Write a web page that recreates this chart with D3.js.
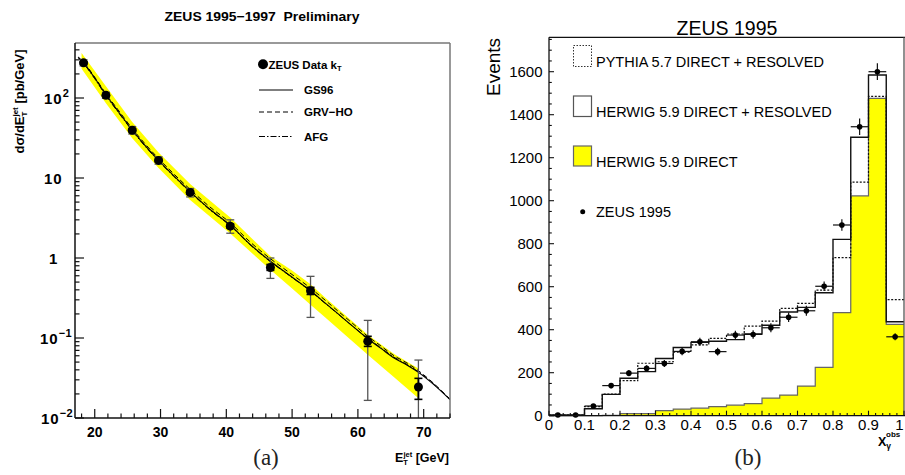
<!DOCTYPE html>
<html>
<head>
<meta charset="utf-8">
<script src="https://cdn.jsdelivr.net/npm/d3@7"></script>
<style>
  html, body { margin: 0; padding: 0; background: #fff; }
  svg { display: block; }
  text { font-family: "Liberation Sans", Arial, Helvetica, sans-serif; }
  .serif { font-family: "Liberation Serif", "DejaVu Serif", serif; }
</style>
</head>
<body>
<svg id="fig" width="905" height="475"></svg>
<script>
// ---------- Panel (a): dsigma/dE_T^jet ----------
const etData   = [18.3, 21.7, 25.7, 29.7, 34.5, 40.6, 46.7, 52.8, 61.5, 69.2];
const xsData   = [275, 108, 39.5, 16.6, 6.6, 2.5, 0.76, 0.39, 0.091, 0.0244];
const statHigh = [283, 111, 41.2, 17.2, 6.95, 2.66, 0.83, 0.43, 0.105, 0.0313];
const statLow  = [267, 105, 37.8, 16.0, 6.25, 2.36, 0.70, 0.35, 0.0785, 0.0171];
const totHigh  = [300, 118, 44.0, 18.4, 7.40, 3.00, 1.00, 0.59, 0.166, 0.053];
const totLow   = [252, 99, 35.5, 14.9, 5.80, 2.04, 0.556, 0.181, 0.0166, 0.006];

const theoryEt = [17.5, 18.3, 20, 21.7, 23.5, 25.7, 27.5, 29.7, 32, 34.5, 37.5, 40.6, 43.5, 46.7,
                  49.5, 52.8, 55, 57, 59, 61.5, 63.5, 65.5, 67.5, 69.2, 71.5, 74];
const gs96  = [323, 275, 178, 110, 69.2, 39.8, 26.3, 16.6, 10.7, 6.76, 4.07, 2.57, 1.51, 0.912,
               0.617, 0.389, 0.275, 0.200, 0.145, 0.0977, 0.0741, 0.0562, 0.0457, 0.0372, 0.0263, 0.0170];
const grvHo = [325, 280, 182, 113, 72.0, 41.5, 27.6, 17.5, 11.3, 7.20, 4.35, 2.75, 1.62, 0.980,
               0.665, 0.420, 0.298, 0.216, 0.157, 0.105, 0.0795, 0.0600, 0.0485, 0.0390, 0.0272, 0.0172];
const afg   = [318, 270, 174, 107, 67.5, 39.0, 25.8, 16.3, 10.5, 6.65, 4.00, 2.53, 1.49, 0.900,
               0.610, 0.385, 0.272, 0.199, 0.145, 0.0990, 0.0755, 0.0575, 0.0465, 0.0378, 0.0266, 0.0169];

// energy-scale uncertainty band
const bandEt   = [18, 21.7, 25.7, 29.7, 34.5, 40.6, 46.7, 50, 52.8, 55, 61.5, 65.5, 69.2];
const bandHigh = [365, 140, 50.0, 20.8, 8.4, 3.20, 1.05, 0.70, 0.47, 0.32, 0.110, 0.063, 0.0417];
const bandLow  = [232, 86, 31.5, 13.3, 5.3, 2.02, 0.713, 0.417, 0.261, 0.182, 0.0619, 0.0324, 0.0176];

const yMajorA = [0.01, 0.1, 1, 10, 100];
const xMajorA = [20, 30, 40, 50, 60, 70];

// ---------- Panel (b): x_gamma^obs distribution ----------
const binLow    = [0, 0.05, 0.1, 0.15, 0.2, 0.25, 0.3, 0.35, 0.4, 0.45, 0.5, 0.55, 0.6, 0.65, 0.7, 0.75, 0.8, 0.85, 0.9, 0.95];
const herwigAll = [2, 2, 32, 99, 174, 205, 266, 317, 341, 346, 354, 380, 421, 482, 504, 572, 820, 1295, 1585, 437];
const herwigDir = [0, 0, 0, 2, 10, 10, 24, 31, 35, 42, 49, 56, 82, 96, 138, 225, 479, 1022, 1476, 425];
const pythiaAll = [3, 3, 42, 100, 163, 244, 251, 296, 329, 360, 380, 417, 440, 499, 522, 584, 735, 1086, 1485, 540];
const zeusEv    = [3, 3, 45, 140, 198, 220, 243, 299, 344, 298, 375, 378, 409, 458, 488, 602, 887, 1344, 1600, 367];
const zeusErr   = [3, 3, 10, 12, 14, 15, 16, 18, 19, 18, 20, 20, 21, 22, 23, 22, 27, 38, 39, 16];
const xMajorB = [0, 0.1, 0.2, 0.3, 0.4, 0.5, 0.6, 0.7, 0.8, 0.9, 1];
const xLabelsB = ["0", "0.1", "0.2", "0.3", "0.4", "0.5", "0.6", "0.7", "0.8", "0.9", "1"];
const yMajorB = [0, 200, 400, 600, 800, 1000, 1200, 1400, 1600];

const svg = d3.select("#fig");

// ================= Panel (a) =================
const xa = d3.scaleLinear().domain([17, 74]).range([75, 450]);
const ya = d3.scaleLog().domain([0.01, 487]).range([418, 43]);

svg.append("clipPath").attr("id", "clipA")
  .append("rect").attr("x", 75).attr("y", 43).attr("width", 375).attr("height", 375);

const gA = svg.append("g");
const plotA = gA.append("g").attr("clip-path", "url(#clipA)");

plotA.append("path")
  .attr("d", d3.area()
    .x((d, i) => xa(bandEt[i]))
    .y0((d, i) => ya(bandLow[i]))
    .y1((d, i) => ya(bandHigh[i]))(bandEt))
  .attr("fill", "#ffff00");

const theoryLine = vals => d3.line()
  .x((d, i) => xa(theoryEt[i]))
  .y((d, i) => ya(vals[i]))
  .curve(d3.curveMonotoneX)(theoryEt);

plotA.append("path").attr("d", theoryLine(gs96)).attr("fill", "none").attr("stroke", "#000").attr("stroke-width", 1.1);
plotA.append("path").attr("d", theoryLine(grvHo)).attr("fill", "none").attr("stroke", "#000").attr("stroke-width", 1).attr("stroke-dasharray", "5,3");
plotA.append("path").attr("d", theoryLine(afg)).attr("fill", "none").attr("stroke", "#000").attr("stroke-width", 1).attr("stroke-dasharray", "6,2,1.5,2");

// error bars: total (outer) and statistical (inner)
etData.forEach((e, i) => {
  const x = xa(e);
  const g = plotA.append("g");
  g.append("line").attr("x1", x).attr("x2", x).attr("y1", ya(totHigh[i])).attr("y2", ya(totLow[i]))
    .attr("stroke", "#555").attr("stroke-width", 1.3);
  [totHigh[i], totLow[i]].forEach(v => g.append("line").attr("x1", x - 4).attr("x2", x + 4)
    .attr("y1", ya(v)).attr("y2", ya(v)).attr("stroke", "#555").attr("stroke-width", 1.3));
  g.append("line").attr("x1", x).attr("x2", x).attr("y1", ya(statHigh[i])).attr("y2", ya(statLow[i]))
    .attr("stroke", "#000").attr("stroke-width", 1.8);
  [statHigh[i], statLow[i]].forEach(v => g.append("line").attr("x1", x - 4).attr("x2", x + 4)
    .attr("y1", ya(v)).attr("y2", ya(v)).attr("stroke", "#000").attr("stroke-width", 1.6));
  g.append("circle").attr("cx", x).attr("cy", ya(xsData[i])).attr("r", 4.5).attr("fill", "#000");
});

// frame
gA.append("line").attr("x1", 75).attr("x2", 450).attr("y1", 43).attr("y2", 43).attr("stroke", "#777").attr("stroke-width", 1.5);
gA.append("line").attr("x1", 450).attr("x2", 450).attr("y1", 43).attr("y2", 418).attr("stroke", "#777").attr("stroke-width", 1.5);
gA.append("line").attr("x1", 75).attr("x2", 75).attr("y1", 43).attr("y2", 418).attr("stroke", "#111").attr("stroke-width", 1.5);
gA.append("line").attr("x1", 75).attr("x2", 450).attr("y1", 418).attr("y2", 418).attr("stroke", "#111").attr("stroke-width", 1.5);

// y ticks (log)
const yMinorA = [];
for (let e = -2; e <= 2; e++) for (let m = 2; m <= 9; m++) {
  const v = m * Math.pow(10, e);
  if (v < 487) yMinorA.push(v);
}
yMinorA.forEach(v => gA.append("line").attr("x1", 75).attr("x2", 79.5).attr("y1", ya(v)).attr("y2", ya(v)).attr("stroke", "#111").attr("stroke-width", 1.2));
yMajorA.forEach(v => gA.append("line").attr("x1", 75).attr("x2", 84).attr("y1", ya(v)).attr("y2", ya(v)).attr("stroke", "#111").attr("stroke-width", 1.2));

// x ticks
d3.range(18, 74.1, 2).forEach(v => {
  const major = v % 10 === 0;
  gA.append("line").attr("x1", xa(v)).attr("x2", xa(v)).attr("y1", 418).attr("y2", 418 - (major ? 9 : 4.5))
    .attr("stroke", "#111").attr("stroke-width", 1.2);
});

// tick labels
const boldA = sel => sel.attr("font-weight", "bold").attr("fill", "#000");
xMajorA.forEach(v => boldA(gA.append("text")).attr("x", xa(v)).attr("y", 437).attr("text-anchor", "middle")
  .attr("font-size", 14).text(v));

const yLab = (v, mant, exp, x0) => {
  const t = boldA(gA.append("text")).attr("x", x0).attr("y", ya(v) + 5.5).attr("font-size", 15).attr("letter-spacing", 1);
  t.append("tspan").text(mant);
  if (exp) t.append("tspan").attr("dy", -7).attr("font-size", 11).attr("letter-spacing", 0.5).text(exp);
};
yLab(100, "10", "2", 44);
yLab(10, "10", null, 44);
yLab(1, "1", null, 49);
yLab(0.1, "10", "\u22121", 40);
yLab(0.01, "10", "\u22122", 41);

// titles
boldA(gA.append("text")).attr("x", 262).attr("y", 20.5).attr("text-anchor", "middle").attr("font-size", 13)
  .attr("xml:space", "preserve").attr("textLength", 195).attr("lengthAdjust", "spacingAndGlyphs")
  .text("ZEUS 1995\u22121997  Preliminary");

const yTitle = boldA(gA.append("text")).attr("transform", "translate(24,101.5) rotate(-90)")
  .attr("text-anchor", "middle").attr("font-size", 13);
yTitle.append("tspan").text("d\u03c3/dE");
yTitle.append("tspan").attr("font-size", 8).attr("dy", 3).text("T");
yTitle.append("tspan").attr("font-size", 8).attr("dx", -5).attr("dy", -9).text("jet");
yTitle.append("tspan").attr("dy", 6).text(" [pb/GeV]");

const xTitle = boldA(gA.append("text")).attr("x", 449).attr("y", 462).attr("text-anchor", "end").attr("font-size", 12.5);
xTitle.append("tspan").text("E");
xTitle.append("tspan").attr("font-size", 7.5).attr("dy", 3).text("T");
xTitle.append("tspan").attr("font-size", 7.5).attr("dx", -4.5).attr("dy", -8).text("jet");
xTitle.append("tspan").attr("dy", 5).text(" [GeV]");

gA.append("text").attr("class", "serif").attr("x", 266).attr("y", 465).attr("text-anchor", "middle")
  .attr("font-size", 23).attr("fill", "#222").text("(a)");

// legend (a)
gA.append("circle").attr("cx", 263).attr("cy", 64.3).attr("r", 5).attr("fill", "#000");
const legA = [
  {y: 90, dash: null, label: "GS96"},
  {y: 112, dash: "5,3", label: "GRV\u2212HO"},
  {y: 136.5, dash: "6,2,1.5,2", label: "AFG"}
];
const zl = boldA(gA.append("text")).attr("x", 268.5).attr("y", 68.5).attr("font-size", 11.5);
zl.append("tspan").text("ZEUS Data k");
zl.append("tspan").attr("font-size", 7.5).attr("dy", 2.5).text("T");
legA.forEach(l => {
  const ln = gA.append("line").attr("x1", 259).attr("x2", 293).attr("y1", l.y).attr("y2", l.y)
    .attr("stroke", "#000").attr("stroke-width", 1.1);
  if (l.dash) ln.attr("stroke-dasharray", l.dash);
  boldA(gA.append("text")).attr("x", 304).attr("y", l.y + 4.2).attr("font-size", 11.5).text(l.label);
});

// ================= Panel (b) =================
const xb = d3.scaleLinear().domain([0, 1]).range([549, 904]);
const yb = d3.scaleLinear().domain([0, 1760]).range([415.7, 37.3]);
const gB = svg.append("g");

const edges = binLow.concat([1]);
const stepPts = vals => edges.map((e, i) => [e, vals[Math.min(i, vals.length - 1)]]);
const stepLine = d3.line().x(d => xb(d[0])).y(d => yb(d[1])).curve(d3.curveStepAfter);
const stepArea = d3.area().x(d => xb(d[0])).y0(yb(0)).y1(d => yb(d[1])).curve(d3.curveStepAfter);

// HERWIG direct (filled)
gB.append("path").attr("d", stepArea(stepPts(herwigDir))).attr("fill", "#ffff00");
gB.append("path").attr("d", stepLine(stepPts(herwigDir))).attr("fill", "none").attr("stroke", "#666").attr("stroke-width", 1.2);
// HERWIG direct + resolved
gB.append("path").attr("d", stepLine(stepPts(herwigAll))).attr("fill", "none").attr("stroke", "#111").attr("stroke-width", 1.4);
// PYTHIA direct + resolved
gB.append("path").attr("d", stepLine(stepPts(pythiaAll))).attr("fill", "none").attr("stroke", "#111").attr("stroke-width", 1.2)
  .attr("stroke-dasharray", "2,1.6");

// ZEUS data
binLow.forEach((b, i) => {
  const xc = xb(b + 0.025), yc = yb(zeusEv[i]);
  gB.append("line").attr("x1", xb(b)).attr("x2", xb(b + 0.05)).attr("y1", yc).attr("y2", yc).attr("stroke", "#111").attr("stroke-width", 1.2);
  gB.append("line").attr("x1", xc).attr("x2", xc).attr("y1", yb(zeusEv[i] + zeusErr[i])).attr("y2", yb(Math.max(0, zeusEv[i] - zeusErr[i])))
    .attr("stroke", "#111").attr("stroke-width", 1.2);
  gB.append("circle").attr("cx", xc).attr("cy", yc).attr("r", 2.8).attr("fill", "#000");
});

// frame and axes
gB.append("line").attr("x1", 549).attr("x2", 905).attr("y1", 37.3).attr("y2", 37.3).attr("stroke", "#111").attr("stroke-width", 1.3);
gB.append("line").attr("x1", 549).attr("x2", 549).attr("y1", 37.3).attr("y2", 415.7).attr("stroke", "#111").attr("stroke-width", 1.3);
gB.append("line").attr("x1", 904).attr("x2", 904).attr("y1", 37.3).attr("y2", 415.7).attr("stroke", "#555").attr("stroke-width", 1.3);
gB.append("line").attr("x1", 549).attr("x2", 905).attr("y1", 415.7).attr("y2", 415.7).attr("stroke", "#111").attr("stroke-width", 1.3);

d3.range(0, 1.001, 0.02).forEach(v => {
  const major = Math.abs(v * 10 - Math.round(v * 10)) < 1e-6;
  gB.append("line").attr("x1", xb(v)).attr("x2", xb(v)).attr("y1", 415.7).attr("y2", 415.7 - (major ? 5 : 2.8))
    .attr("stroke", "#111").attr("stroke-width", 1.1);
});
d3.range(0, 1751, 50).forEach(v => {
  const major = v % 200 === 0;
  gB.append("line").attr("x1", 549).attr("x2", 549 + (major ? 5 : 2.8)).attr("y1", yb(v)).attr("y2", yb(v))
    .attr("stroke", "#111").attr("stroke-width", 1.1);
});

xMajorB.forEach((v, i) => gB.append("text").attr("x", i === 10 ? 903.5 : xb(v)).attr("y", 429.5)
  .attr("text-anchor", i === 10 ? "end" : "middle")
  .attr("font-size", 15).attr("fill", "#000").text(xLabelsB[i]));
yMajorB.forEach(v => gB.append("text").attr("x", 542.5).attr("y", yb(v) + 5.4).attr("text-anchor", "end")
  .attr("font-size", 15).attr("fill", "#000").text(v));

gB.append("text").attr("x", 727).attr("y", 34.5).attr("text-anchor", "middle").attr("font-size", 19.5).attr("fill", "#000").text("ZEUS 1995");
gB.append("text").attr("transform", "translate(500,67) rotate(-90)").attr("text-anchor", "middle")
  .attr("font-size", 19).attr("fill", "#000").text("Events");

const xgT = gB.append("text").attr("x", 878).attr("y", 446).attr("font-size", 12.5).attr("font-weight", "bold").attr("fill", "#000");
xgT.append("tspan").text("X");
xgT.append("tspan").attr("font-size", 8.5).attr("dy", 3).text("\u03b3");
xgT.append("tspan").attr("font-size", 8).attr("dx", -5).attr("dy", -12).text("obs");

gB.append("text").attr("class", "serif").attr("x", 748).attr("y", 465).attr("text-anchor", "middle")
  .attr("font-size", 23).attr("fill", "#222").text("(b)");

// legend (b)
gB.append("rect").attr("x", 573.5).attr("y", 45.5).attr("width", 18).attr("height", 21).attr("fill", "#fff")
  .attr("stroke", "#333").attr("stroke-width", 1).attr("stroke-dasharray", "1.5,1.5");
gB.append("rect").attr("x", 573.5).attr("y", 96).attr("width", 18).attr("height", 20.5).attr("fill", "#fff")
  .attr("stroke", "#555").attr("stroke-width", 1.2);
gB.append("rect").attr("x", 573.5).attr("y", 146).attr("width", 18).attr("height", 20).attr("fill", "#ffff00")
  .attr("stroke", "#666").attr("stroke-width", 1.2);
gB.append("circle").attr("cx", 582.7).attr("cy", 211.7).attr("r", 2.5).attr("fill", "#000");
const legB = [
  {y: 66.5, label: "PYTHIA 5.7 DIRECT + RESOLVED"},
  {y: 116.5, label: "HERWIG 5.9 DIRECT + RESOLVED"},
  {y: 166.5, label: "HERWIG 5.9 DIRECT"},
  {y: 216.5, label: "ZEUS 1995"}
];
legB.forEach(l => {
  gB.append("text").attr("x", 596).attr("y", l.y).attr("font-size", 14.5).attr("fill", "#000").text(l.label);
});
</script>
</body>
</html>
